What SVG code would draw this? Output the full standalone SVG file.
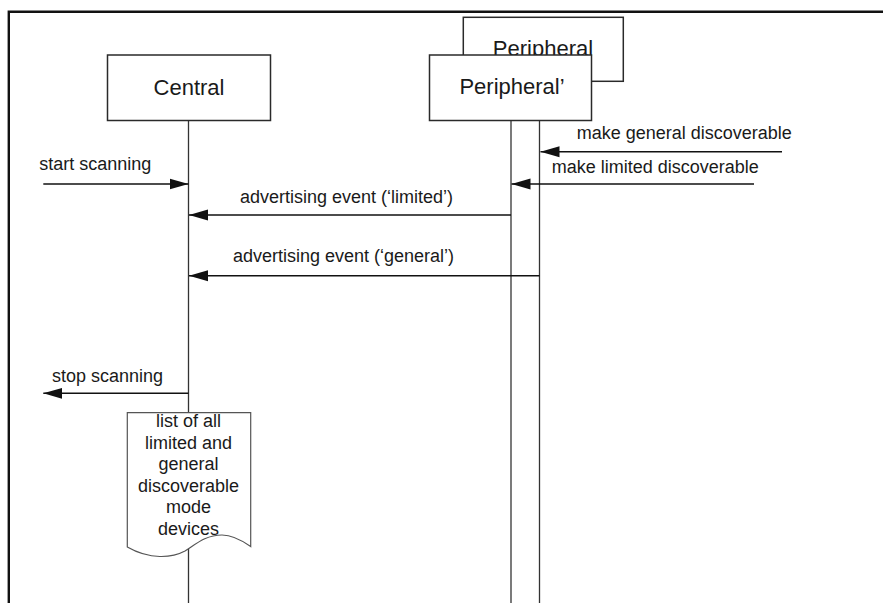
<svg xmlns="http://www.w3.org/2000/svg" width="883" height="603" viewBox="0 0 883 603">
  <style>
    .box { fill: #fff; stroke: #2a2a2a; stroke-width: 1.5; }
    .life { stroke: #333; stroke-width: 1.3; fill: none; }
    .msg { stroke: #111; stroke-width: 1.5; fill: none; marker-end: url(#head); }
    .title { font-family: "Liberation Sans", Arial, sans-serif; font-size: 22px; fill: #1a1a1a; text-anchor: middle; }
    .lbl { font-family: "Liberation Sans", Arial, sans-serif; font-size: 18px; fill: #1a1a1a; }
    .doc { fill: #fff; stroke: #555; stroke-width: 1.2; }
  </style>
  <defs>
    <marker id="head" markerUnits="userSpaceOnUse" markerWidth="20" markerHeight="12" refX="19" refY="6" orient="auto">
      <path d="M0,0.5 L19,6 L0,11.5 Z" fill="#111"/>
    </marker>
  </defs>

  <rect width="883" height="603" fill="#fff"/>

  <!-- page frame -->
  <path d="M8.8,603 V11.7 H883" fill="none" stroke="#111" stroke-width="2.4"/>

  <!-- lifelines -->
  <g id="lifelines">
    <line class="life" x1="188.5" y1="120" x2="188.5" y2="603"/>
    <line class="life" x1="511" y1="120" x2="511" y2="603"/>
    <line class="life" x1="539.5" y1="80" x2="539.5" y2="603"/>
  </g>

  <g id="peripheral">
    <rect class="box" x="463.3" y="17.3" width="160" height="64"/>
    <text class="title" x="543" y="56">Peripheral</text>
  </g>

  <g id="central">
    <rect class="box" x="107.5" y="55" width="163" height="65.5"/>
    <text class="title" x="189" y="95">Central</text>
  </g>

  <g id="peripheral-prime">
    <rect class="box" x="429.5" y="55" width="162" height="65.5"/>
    <text class="title" x="512" y="93.5">Peripheral’</text>
  </g>

  <g id="messages">
    <line class="msg" x1="782" y1="151.7" x2="540.5" y2="151.7"/>
    <line class="msg" x1="754" y1="184" x2="511.5" y2="184"/>
    <line class="msg" x1="43.3" y1="184" x2="188.5" y2="184"/>
    <line class="msg" x1="511" y1="215" x2="189" y2="215"/>
    <line class="msg" x1="539.5" y1="275.7" x2="189" y2="275.7"/>
    <line class="msg" x1="188.5" y1="393.3" x2="43.3" y2="393.3"/>
  </g>

  <g id="message-labels">
    <text class="lbl" x="576.7" y="139.3">make general discoverable</text>
    <text class="lbl" x="551.7" y="173.3">make limited discoverable</text>
    <text class="lbl" x="39.3" y="170">start scanning</text>
    <text class="lbl" x="240" y="202.7">advertising event (‘limited’)</text>
    <text class="lbl" x="233" y="261.7">advertising event (‘general’)</text>
    <text class="lbl" x="52" y="381.7">stop scanning</text>
  </g>

  <g id="device-list">
    <path class="doc" d="M127.3,412.7 H250.7 V546.5 C240,539 232,535 222,535 C205,535 195,545 185,551 C172,558 150,560 127.3,547 Z"/>
    <g class="lbl" text-anchor="middle">
      <text x="188.5" y="427">list of all</text>
      <text x="188.5" y="448.6">limited and</text>
      <text x="188.5" y="470.2">general</text>
      <text x="188.5" y="491.8">discoverable</text>
      <text x="188.5" y="513.4">mode</text>
      <text x="188.5" y="535">devices</text>
    </g>
  </g>
</svg>
